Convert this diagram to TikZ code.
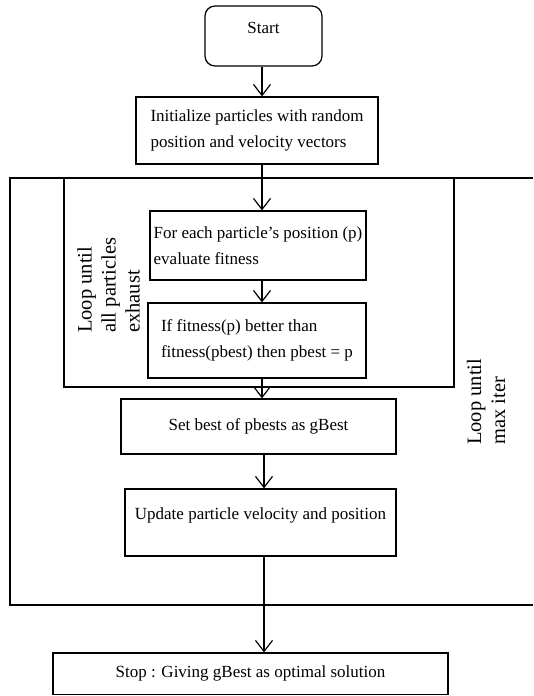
\documentclass[tikz,border=0pt]{standalone}
\usepackage{fontspec}
\setmainfont{Liberation Serif}
\usetikzlibrary{arrows.meta}
\begin{document}
\begin{tikzpicture}[x=1pt,y=-1pt,
  box/.style={draw, line width=1.2pt, inner sep=0pt, font=\fontsize{17}{25.5}\selectfont},
  flow/.style={draw, line width=1.2pt, -{Straight Barb[length=11pt,width=17pt,line width=1.2pt]}},
  looplabel/.style={rotate=90, anchor=west, align=left, inner sep=0pt, font=\fontsize{20.5}{24}\selectfont},
  frame/.style={line width=1.2pt}]
\useasboundingbox (0,0) rectangle (533,696);
\coordinate (ax) at (262,0);
\coordinate (bx) at (264,0);
% boxes
\node[box, rounded corners=10pt, minimum width=117pt, minimum height=60pt, text height=27pt, text depth=33pt] (start) at (263.5,36) {Start};
\node[box, align=left, minimum width=242pt, minimum height=67pt] (init) at (257,130.5) {Initialize particles with random\\position and velocity vectors};
\node[box, align=left, minimum width=216pt, minimum height=69pt] (each) at (258,245.5) {For each particle's position (p)\\evaluate fitness};
\node[box, align=left, minimum width=218pt, minimum height=75pt] (cmp) at (257,340.5) {If fitness(p) better than\\fitness(pbest) then pbest = p};
\node[box, minimum width=275pt, minimum height=55pt] (set) at (258.5,426.5) {Set best of pbests as gBest};
\node[box, minimum width=271pt, minimum height=67pt, text height=30pt, text depth=37pt] (upd) at (260.5,522.5) {Update particle velocity and position};
\node[box, minimum width=395pt, minimum height=41.5pt] (stop) at (250.5,673.75) {Stop : Giving gBest as optimal solution};
% loop frames
\coordinate (o1) at (533,178);
\coordinate (o2) at (10,178);
\coordinate (o3) at (10,605);
\coordinate (o4) at (533,605);
\draw[frame] (o1) -- (o2) -- (o3) -- (o4);
\coordinate (i1) at (64,178);
\coordinate (i2) at (64,387);
\coordinate (i3) at (454,387);
\coordinate (i4) at (454,178);
\draw[frame] (i1) -- (i2) -- (i3) -- (i4);
% labels
\node[looplabel] (lbl1) at (108.5,333) {Loop until\\all particles\\exhaust};
\node[looplabel] (lbl2) at (486,445) {Loop until\\max iter};
% connectors
\draw[flow] (start.south -| ax) -- (init.north -| ax);
\draw[flow] (init.south -| ax) -- (each.north -| ax);
\draw[flow] (each.south -| ax) -- (cmp.north -| ax);
\draw[flow] (cmp.south -| ax) -- (set.north -| ax);
\draw[flow] (set.south -| bx) -- (upd.north -| bx);
\draw[flow] (upd.south -| bx) -- (stop.north -| bx);
\end{tikzpicture}
\end{document}
